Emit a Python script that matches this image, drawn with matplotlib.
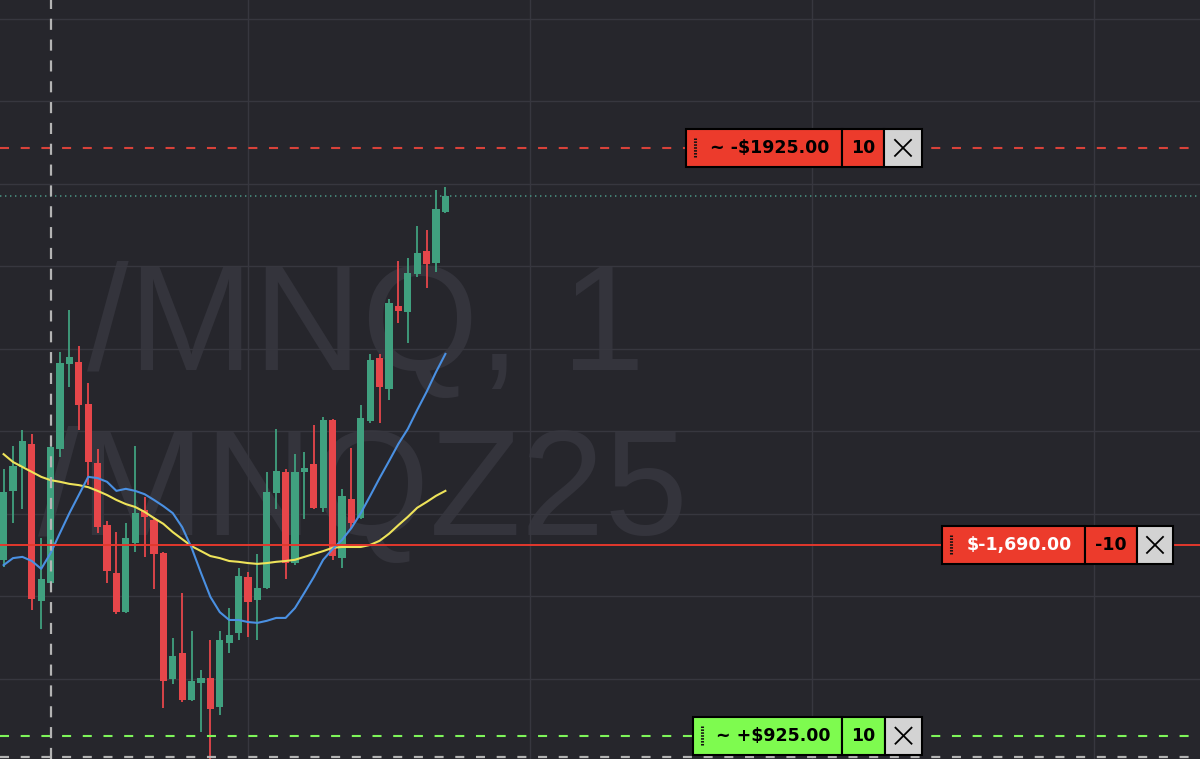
"""
Dark-theme 1-minute candlestick chart of /MNQ with two moving averages,
a short position line and its stop / target order tags.
"""

import matplotlib
matplotlib.use("Agg")
import matplotlib.pyplot as plt
from matplotlib.patches import Rectangle
from matplotlib.lines import Line2D
import numpy as np

plt.rcParams["lines.scale_dashes"] = False

# ---- data -------------------------------------------------------------
opens = [25008.75, 25025.50, 25031.50, 25037.00, 24999.00, 25003.25, 25035.75, 25056.25,
         25056.75, 25046.75, 25032.25, 25017.25, 25005.75, 24996.25, 25013.00, 25021.00,
         25018.50, 25010.50, 24980.00, 24986.25, 24975.00, 24979.00, 24980.25, 24973.25,
         24988.75, 24991.25, 25004.75, 24999.25, 25002.00, 25025.00, 25030.25, 25008.00,
         25030.25, 25032.00, 25021.50, 25042.75, 25009.25, 25023.75, 25019.00, 25042.50,
         25057.75, 25050.25, 25070.50, 25069.00, 25078.25, 25083.75, 25080.75, 25093.25]
highs = [25031.00, 25036.50, 25040.25, 25039.50, 25014.25, 25038.75, 25059.25, 25069.50,
         25060.75, 25051.75, 25035.75, 25018.25, 25015.75, 25017.75, 25036.50, 25024.00,
         25019.25, 25010.75, 24990.00, 25000.75, 24991.75, 24982.25, 24989.50, 24991.75,
         24997.25, 25007.00, 25006.00, 25010.25, 25030.25, 25040.50, 25031.00, 25034.50,
         25035.00, 25041.50, 25043.50, 25043.00, 25026.00, 25036.00, 25046.50, 25058.75,
         25058.75, 25072.00, 25081.25, 25082.00, 25089.75, 25088.75, 25098.50, 25099.25]
lows = [25007.25, 25017.75, 25021.25, 24996.75, 24992.00, 25001.50, 25033.75, 25050.75,
        25040.25, 25027.00, 25015.50, 25003.25, 24995.75, 24996.00, 25010.75, 25009.50,
        25001.75, 24973.00, 24978.75, 24974.50, 24974.75, 24967.25, 24959.25, 24971.25,
        24986.25, 24989.50, 24990.25, 24989.50, 25001.75, 25021.25, 25004.25, 25007.75,
        25018.75, 25021.25, 25020.50, 25008.75, 25007.00, 25016.50, 25018.75, 25042.00,
        25042.00, 25047.75, 25066.25, 25061.50, 25077.50, 25074.75, 25078.75, 25093.00]
closes = [25025.25, 25031.75, 25037.75, 24999.50, 25004.25, 25036.25, 25056.50, 25058.00,
          25046.50, 25032.50, 25016.75, 25006.25, 24996.25, 25014.25, 25020.25, 25019.25,
          25010.25, 24979.50, 24985.50, 24975.00, 24979.50, 24980.25, 24972.75, 24989.50,
          24990.75, 25005.00, 24998.75, 25002.00, 25025.25, 25030.50, 25008.00, 25030.25,
          25031.25, 25021.50, 25042.75, 25009.75, 25024.25, 25017.75, 25043.25, 25057.25,
          25050.75, 25071.25, 25069.25, 25078.50, 25083.25, 25080.50, 25094.00, 25097.00]

ma_fast = [25007.6, 25009.3, 25009.6, 25008.6, 25006.7, 25010.5, 25015.4, 25020.2,
           25024.6, 25029.0, 25028.7, 25027.8, 25025.6, 25026.1, 25025.6, 25024.8,
           25023.4, 25021.9, 25020.2, 25016.8, 25011.8, 25005.7, 24999.9, 24996.2,
           24994.3, 24994.3, 24993.8, 24993.6, 24994.1, 24994.8, 24994.8, 24997.2,
           25000.9, 25004.7, 25008.9, 25011.5, 25013.7, 25016.6, 25020.2, 25024.4,
           25028.7, 25032.8, 25037.0, 25040.6, 25045.2, 25049.6, 25054.4, 25058.8]
ma_slow = [25034.5, 25032.6, 25031.4, 25030.2, 25029.0, 25028.2, 25027.8, 25027.3,
           25027.0, 25026.5, 25025.6, 25024.6, 25023.4, 25022.4, 25021.7, 25020.5,
           25019.0, 25017.6, 25015.6, 25013.9, 25012.2, 25011.0, 25009.8, 25009.3,
           25008.6, 25008.4, 25008.1, 25007.9, 25008.1, 25008.4, 25008.6, 25008.9,
           25009.6, 25010.3, 25011.0, 25011.8, 25012.0, 25012.0, 25012.0, 25012.5,
           25013.5, 25015.2, 25017.3, 25019.3, 25021.5, 25022.9, 25024.4, 25025.6]

entry_price = 25012.50
stop_price = 25108.75
target_price = 24966.25
last_price = closes[-1]
cross_bar, cross_price = 5, 24961.0

pos_text, pos_qty = "$-1,690.00", "-10"
stop_text, stop_qty = "~ -$1925.00", "10"
target_text, target_qty = "~ +$925.00", "10"
watermark = ["/MNQ, 1", "/MNQZ25"]

# ---- style ------------------------------------------------------------
BG = "#26262c"
GRID = "#37373f"
UP, DOWN = "#40a07f", "#e6464a"
W, H, DPI = 1200, 759, 100

fig = plt.figure(figsize=(W / DPI, H / DPI), dpi=DPI, facecolor=BG)
ax = fig.add_axes([0, 0, 1, 1])
ax.set_facecolor(BG)
ax.set_xlim(-0.383, 127.28)
ax.set_ylim(24960.6, 25144.6)
ax.set_axis_off()

# grid
for gx in (26, 56, 86, 116):
    ax.axvline(gx, color=GRID, lw=1.0, zorder=1)
for gy in np.arange(24980, 25141, 20):
    ax.axhline(gy, color=GRID, lw=1.0, zorder=1)

# watermark
wm_kw = dict(transform=ax.transAxes, fontsize=108, color="#34343c",
             family="Liberation Sans", va="baseline", ha="right", zorder=0.5)
ax.text(645 / W, 1 - 370 / H, watermark[0], **wm_kw)
ax.text(688 / W, 1 - 535 / H, watermark[1], **wm_kw)

# candles
idx = np.arange(len(opens))
o, h, l, c = map(np.array, (opens, highs, lows, closes))
cols = np.where(c >= o, UP, DOWN)
ax.vlines(idx, l, h, colors=cols, lw=1.3, zorder=2)
bottom = np.minimum(o, c)
height = np.maximum(np.abs(c - o), 0.3)
ax.bar(idx, height, bottom=bottom, width=0.75, color=cols, zorder=2.1)

# moving averages
ax.plot(idx, ma_slow, color="#eee35a", lw=1.5, zorder=3)
ax.plot(idx, ma_fast, color="#4a90e2", lw=1.5, zorder=3)

# price lines
ax.axhline(last_price, color="#4a8f80", lw=1.2, ls=(0, (1.0, 2.6)), zorder=3)
ax.axhline(stop_price, color="#d8423a", lw=1.5, ls=(0, (6.5, 8.4)), zorder=3)
ax.axhline(target_price, color="#7ef55a", lw=1.5, ls=(0, (6.5, 8.4)), zorder=3)
ax.axhline(entry_price, color="#e3382d", lw=1.4, zorder=4)

# crosshair
ax.axvline(cross_bar, color="#b4b4b4", lw=1.6, ls=(0, (8.0, 7.0)), zorder=3.5)
ax.axhline(cross_price, color="#b4b4b4", lw=1.6, ls=(0, (6.5, 8.4)), zorder=3.5)


def order_tag(price, x0, x1, x2, x3, text, qty, fill, text_color):
    """Draw a broker-style order tag centred on the given price."""
    yc = ax.transData.transform((0, price))[1]
    hh = 38
    y0 = yc - hh / 2
    for a, b, fc in ((x0, x1, fill), (x1, x2, fill), (x2, x3, "#d3d3d3")):
        fig.add_artist(Rectangle((a / W, y0 / H), (b - a) / W, hh / H,
                                 transform=fig.transFigure, facecolor=fc,
                                 edgecolor="black", lw=1.5, zorder=10))
    gx = x0 + 9
    fig.add_artist(Line2D([gx / W, gx / W], [(yc - 9) / H, (yc + 10) / H],
                          transform=fig.transFigure, color="#111111", lw=2.2,
                          ls=(0, (1.1, 1.0)), zorder=11))
    fig.text((x0 + x1) / 2 / W + 6 / W, yc / H, text, ha="center", va="center",
             fontsize=12.5, fontweight="bold", family="DejaVu Sans",
             color=text_color, zorder=11)
    fig.text((x1 + x2) / 2 / W, yc / H, qty, ha="center", va="center",
             fontsize=12.5, fontweight="bold", family="DejaVu Sans",
             color="black", zorder=11)
    cx, s = (x2 + x3) / 2, 8
    for dy in (1, -1):
        fig.add_artist(Line2D([(cx - s) / W, (cx + s) / W],
                              [(yc - dy * s) / H, (yc + dy * s) / H],
                              transform=fig.transFigure, color="black",
                              lw=1.3, zorder=11))


order_tag(stop_price, 686, 842, 884, 922, stop_text, stop_qty, "#ec3b2c", "black")
order_tag(entry_price, 942, 1085, 1137, 1173, pos_text, pos_qty, "#ec3b2c", "white")
order_tag(target_price, 693, 842, 885, 922, target_text, target_qty, "#7efb4f", "black")

fig.savefig("out.png", dpi=DPI, facecolor=BG)
